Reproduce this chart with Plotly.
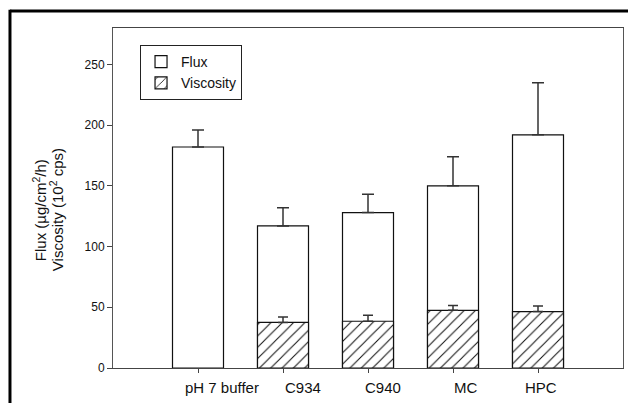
import plotly.graph_objects as go

categories = ["pH 7 buffer", "C934", "C940", "MC", "HPC"]
flux = [182, 117, 128, 150, 192]
flux_err = [14, 15, 15, 24, 43]
viscosity = [None, 37.5, 38.5, 47.5, 46.5]
viscosity_err = [None, 4.5, 5, 4, 4.5]
y_ticks = [0, 50, 100, 150, 200, 250]

# layout-only constants (label placement offsets, in category units)
label_offsets = [0.28, 0.24, 0.18, 0.15, 0.04]

xpos = list(range(len(categories)))
FONT = "Liberation Sans, Arial, sans-serif"

fig = go.Figure()
fig.add_trace(go.Bar(
    x=xpos, y=flux, name="Flux", width=0.6,
    marker=dict(color="white", line=dict(color="#111", width=1.2)),
    error_y=dict(type="data", array=flux_err, arrayminus=[0] * len(flux),
                 symmetric=False, color="#333", thickness=1.5, width=6),
))
fig.add_trace(go.Bar(
    x=xpos, y=viscosity, name="Viscosity", width=0.6,
    marker=dict(color="white", line=dict(color="#111", width=1.2),
                pattern=dict(shape="/", fgcolor="#111", fgopacity=1,
                             bgcolor="white", size=8, solidity=0.13)),
    error_y=dict(type="data", array=viscosity_err,
                 arrayminus=[0] * len(viscosity), symmetric=False,
                 color="#333", thickness=1.5, width=5),
))

annotations = []
for i, (cat, off) in enumerate(zip(categories, label_offsets)):
    annotations.append(dict(
        x=i + off, y=0, xref="x", yref="y", text=cat, showarrow=False,
        xanchor="center", yanchor="middle", yshift=-19,
        font=dict(family=FONT, size=15, color="#111")))

annotations.append(dict(
    x=0, y=130, xref="paper", yref="y", xshift=-74,
    text="Flux (µg/cm<sup>2</sup>/h)", textangle=-90, showarrow=False,
    xanchor="center", yanchor="middle",
    font=dict(family=FONT, size=15, color="#111")))
annotations.append(dict(
    x=0, y=130, xref="paper", yref="y", xshift=-57,
    text="Viscosity (10<sup>2</sup> cps)", textangle=-90, showarrow=False,
    xanchor="center", yanchor="middle",
    font=dict(family=FONT, size=15, color="#111")))

fig.update_layout(
    width=620, height=395,
    margin=dict(l=105, r=5, t=20, b=35),
    paper_bgcolor="white", plot_bgcolor="white",
    barmode="overlay", showlegend=True,
    legend=dict(x=0.053, y=0.95, xanchor="left", yanchor="top",
                bordercolor="#222", borderwidth=1, bgcolor="white",
                font=dict(family=FONT, size=14, color="#111"),
                traceorder="normal"),
    xaxis=dict(range=[-1, 5], tickvals=xpos, showticklabels=False,
               ticks="outside", ticklen=4, tickcolor="#444",
               showline=True, linecolor="#444", linewidth=1, mirror=True,
               showgrid=False, zeroline=False),
    yaxis=dict(range=[0, 280], tickvals=y_ticks,
               ticks="outside", ticklen=5, tickcolor="#444",
               showline=True, linecolor="#555", linewidth=1, mirror=True,
               showgrid=False, zeroline=False,
               tickfont=dict(family=FONT, size=12, color="#111")),
    annotations=annotations,
    shapes=[
        dict(type="line", xref="paper", yref="paper",
             x0=-0.202, x1=1.05, y0=1.05, y1=1.05,
             line=dict(color="black", width=3)),
        dict(type="line", xref="paper", yref="paper",
             x0=-0.202, x1=-0.202, y0=1.054, y1=-0.2,
             line=dict(color="black", width=3)),
    ],
)

fig.write_html("out.html")
